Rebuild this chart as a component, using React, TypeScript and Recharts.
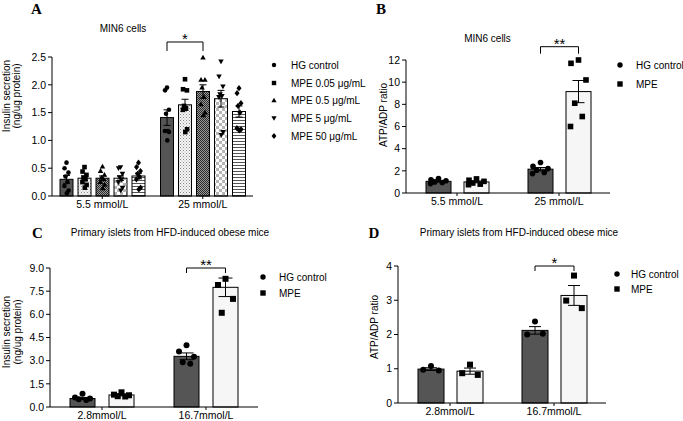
import React from 'react';
import { BarChart, Bar, XAxis, YAxis, ErrorBar } from 'recharts';

const FONT = '"Liberation Sans", Arial, sans-serif';
const SERIF = '"Liberation Serif", "Times New Roman", serif';

// ---------- Panel A: MIN6 cells, insulin secretion
const aGroups = ['5.5 mmol/L', '25 mmol/L'];
const aSeries = ['HG control', 'MPE 0.05 μg/mL', 'MPE 0.5 μg/mL', 'MPE 5 μg/mL', 'MPE 50 μg/mL'];
const aMeans = [[0.30, 1.41], [0.32, 1.64], [0.32, 1.88], [0.32, 1.75], [0.36, 1.52]];
const aSems = [[0.07, 0.14], [0.04, 0.1], [0.04, 0.12], [0.04, 0.15], [0.05, 0.1]];
const aPoints = [
  [[0.6, 0.5, 0.42, 0.35, 0.25, 0.18, 0.1, 0.05], [1.95, 1.9, 1.55, 1.48, 1.17, 1.17, 1.15, 1.0]],
  [[0.52, 0.44, 0.38, 0.33, 0.3, 0.25, 0.2, 0.15], [2.1, 1.92, 1.9, 1.62, 1.58, 1.55, 1.2, 1.15]],
  [[0.53, 0.45, 0.38, 0.33, 0.3, 0.25, 0.2, 0.14], [2.49, 2.09, 2.09, 1.95, 1.78, 1.65, 1.5, 1.45]],
  [[0.52, 0.5, 0.4, 0.34, 0.3, 0.25, 0.15, 0.1], [2.42, 2.15, 1.97, 1.83, 1.8, 1.78, 1.15, 1.1]],
  [[0.6, 0.52, 0.45, 0.4, 0.35, 0.3, 0.15, 0.12], [1.94, 1.85, 1.67, 1.62, 1.5, 1.22, 1.2, 1.18]],
];
const aTicks = [0, 0.5, 1, 1.5, 2, 2.5];

// ---------- Panel B: MIN6 cells, ATP/ADP
const bGroups = ['5.5 mmol/L', '25 mmol/L'];
const bSeries = ['HG control', 'MPE'];
const bMeans = [[1.05, 2.15], [1.0, 9.15]];
const bSems = [[0.06, 0.15], [0.08, 1.0]];
const bPoints = [
  [[1.3, 1.2, 1.1, 1.0, 0.95, 0.85], [2.75, 2.4, 2.2, 2.05, 1.85, 1.75]],
  [[1.27, 1.15, 1.05, 0.9, 0.8, 0.75], [12.0, 11.7, 10.2, 8.1, 6.9, 6.0]],
];
const bTicks = [0, 2, 4, 6, 8, 10, 12];

// ---------- Panel C: primary islets, insulin secretion
const cGroups = ['2.8mmol/L', '16.7mmol/L'];
const cSeries = ['HG control', 'MPE'];
const cMeans = [[0.55, 3.28], [0.78, 7.75]];
const cSems = [[0.07, 0.22], [0.06, 0.6]];
const cPoints = [
  [[0.86, 0.62, 0.55, 0.5, 0.45], [4.0, 3.6, 3.25, 2.9, 2.8]],
  [[0.95, 0.8, 0.76, 0.7, 0.68], [8.3, 7.9, 7.0, 6.1]],
];
const cTicks = [0, 1.5, 3, 4.5, 6, 7.5, 9];

// ---------- Panel D: primary islets, ATP/ADP
const dGroups = ['2.8mmol/L', '16.7mmol/L'];
const dSeries = ['HG control', 'MPE'];
const dMeans = [[0.99, 2.12], [0.93, 3.14]];
const dSems = [[0.04, 0.11], [0.09, 0.29]];
const dPoints = [
  [[1.08, 0.97, 0.95], [2.38, 2.0, 2.02]],
  [[1.12, 0.87, 0.82], [3.72, 2.99, 2.77]],
];
const dTicks = [0, 1, 2, 3, 4];

// significance brackets: group, first and last series, height in data units
const aBracket = { group: '25 mmol/L', from: 0, to: 2, level: 2.77, label: '*' };
const bBracket = { group: '25 mmol/L', from: 0, to: 1, level: 13.2, label: '**' };
const cBracket = { group: '16.7mmol/L', from: 0, to: 1, level: 9.0, label: '**' };
const dBracket = { group: '16.7mmol/L', from: 0, to: 1, level: 4.0, label: '*' };

const jitter = [0, -0.3, 0.3, -0.15, 0.15, -0.32, 0.32, 0.05];

function buildRows(groups: string[], means: number[][], sems: number[][], points: number[][][]) {
  return groups.map((name, g) => {
    const row: any = { name };
    means.forEach((m, s) => {
      row[`m${s}`] = m[g];
      row[`e${s}`] = sems[s][g];
      row[`p${s}`] = points[s][g];
    });
    return row;
  });
}

function Marker({ kind, cx, cy, r }: { kind: string; cx: number; cy: number; r: number }) {
  if (kind === 'circle') return <circle cx={cx} cy={cy} r={r} fill="#000" />;
  if (kind === 'square') return <rect x={cx - r} y={cy - r} width={2 * r} height={2 * r} fill="#000" />;
  if (kind === 'triangle')
    return <polygon points={`${cx},${cy - r * 1.25} ${cx - r * 1.2},${cy + r * 0.85} ${cx + r * 1.2},${cy + r * 0.85}`} fill="#000" />;
  if (kind === 'down')
    return <polygon points={`${cx},${cy + r * 1.25} ${cx - r * 1.2},${cy - r * 0.85} ${cx + r * 1.2},${cy - r * 0.85}`} fill="#000" />;
  return <polygon points={`${cx},${cy - r * 1.35} ${cx + r * 1.1},${cy} ${cx},${cy + r * 1.35} ${cx - r * 1.1},${cy}`} fill="#000" />;
}

const makeShape = (s: number, fill: string, marker: string, r: number, spread: number, bracket: any, barGap: number, drop: number) =>
  (props: any) => {
    const { x, y, width, height, payload } = props;
    const mean = payload[`m${s}`];
    const base = y + height;
    const k = mean ? height / mean : 0;
    const pts: number[] = payload[`p${s}`] || [];
    const cx = x + width / 2;
    let br = null;
    if (bracket && bracket.from === s && bracket.group === payload.name) {
      const x2 = cx + (bracket.to - bracket.from) * (width + barGap);
      const ly = base - bracket.level * k;
      br = (
        <g>
          <polyline points={`${cx},${ly + drop} ${cx},${ly} ${x2},${ly} ${x2},${ly + drop}`} fill="none" stroke="#000" strokeWidth={1} />
          <text x={(cx + x2) / 2} y={ly + 2} textAnchor="middle" fontSize={15} fontFamily={FONT} fill="#000">{bracket.label}</text>
        </g>
      );
    }
    return (
      <g>
        <rect x={x} y={y} width={width} height={height} fill={fill} stroke="#000" strokeWidth={1} />
        {pts.map((v, i) => (
          <Marker key={i} kind={marker} cx={cx + jitter[i % jitter.length] * width * spread} cy={base - v * k} r={r} />
        ))}
        {br}
      </g>
    );
  };

function Panel(p: any) {
  const rows = buildRows(p.groups, p.means, p.sems, p.points);
  const tickStyle = { fill: '#000', fontSize: 10.5, fontFamily: FONT };
  return (
    <div style={{ position: 'absolute', left: p.left, top: p.top }}>
      <BarChart width={p.width} height={p.height} data={rows} margin={p.margin} barSize={p.barSize} barGap={p.barGap}>
        <XAxis dataKey="name" interval={0} height={p.xHeight} tickSize={3} tickMargin={2}
          axisLine={{ stroke: '#000' }} tickLine={{ stroke: '#000' }} tick={tickStyle} />
        <YAxis width={p.yWidth} domain={[0, p.ticks[p.ticks.length - 1]]} ticks={p.ticks}
          tickFormatter={p.fmt} tickSize={4} tickMargin={2}
          axisLine={{ stroke: '#000' }} tickLine={{ stroke: '#000' }} tick={tickStyle} />
        {p.series.map((name: string, s: number) => (
          <Bar key={name} dataKey={`m${s}`} name={name} isAnimationActive={false}
            shape={makeShape(s, p.fills[s], p.markers[s], p.r, p.spread, p.bracket, p.barGap, p.drop)}>
            <ErrorBar dataKey={`e${s}`} width={p.cap} stroke="#000" strokeWidth={1} direction="y" />
          </Bar>
        ))}
      </BarChart>
    </div>
  );
}

const aFills = ['#555', 'url(#patDots)', 'url(#patFine)', 'url(#patCheck)', 'url(#patStripe)'];
const aMarkers = ['circle', 'square', 'triangle', 'down', 'diamond'];
const twoFills = ['#555', '#f6f6f6'];
const twoMarkers = ['circle', 'square'];

function Legend({ x, tx, ys, labels, markers, r }: any) {
  return (
    <g>
      {labels.map((l: string, i: number) => (
        <g key={l}>
          <Marker kind={markers[i]} cx={x} cy={ys[i]} r={r} />
          <text x={tx} y={ys[i] + 3.6} fontSize={10} fontFamily={FONT} fill="#000">{l}</text>
        </g>
      ))}
    </g>
  );
}

function RotLabel({ x, y, text }: any) {
  return (
    <text transform={`translate(${x},${y}) rotate(-90)`} textAnchor="middle" dominantBaseline="central"
      fontSize={10} fontFamily={FONT} fill="#000">{text}</text>
  );
}

export default function App() {
  const fmt1 = (v: number) => v.toFixed(1);
  const fmt0 = (v: number) => String(v);
  return (
    <div style={{ position: 'absolute', left: 0, top: 0, width: 683, height: 421, background: '#fff', overflow: 'hidden' }}>
      <svg width={0} height={0} style={{ position: 'absolute' }}>
        <defs>
          <pattern id="patDots" width={3} height={3} patternUnits="userSpaceOnUse">
            <rect width={3} height={3} fill="#f4f4f4" />
            <rect width={1} height={1} fill="#8a8a8a" />
            <rect x={1.5} y={1.5} width={1} height={1} fill="#b0b0b0" />
          </pattern>
          <pattern id="patFine" width={2} height={2} patternUnits="userSpaceOnUse">
            <rect width={2} height={2} fill="#999" />
            <rect width={1} height={1} fill="#2a2a2a" />
            <rect x={1} y={1} width={1} height={1} fill="#2a2a2a" />
          </pattern>
          <pattern id="patCheck" width={6} height={6} patternUnits="userSpaceOnUse">
            <rect width={6} height={6} fill="#fff" />
            <rect width={3} height={3} fill="#b5b5b5" />
            <rect x={3} y={3} width={3} height={3} fill="#b5b5b5" />
          </pattern>
          <pattern id="patStripe" width={3} height={3} patternUnits="userSpaceOnUse">
            <rect width={3} height={3} fill="#fff" />
            <rect width={3} height={1} fill="#555" />
          </pattern>
        </defs>
      </svg>

      <Panel left={0} top={0} width={255} height={216} margin={{ top: 57, right: 2, left: 0, bottom: 0 }}
        yWidth={52} xHeight={20} groups={aGroups} series={aSeries} means={aMeans} sems={aSems} points={aPoints}
        ticks={aTicks} fmt={fmt1} fills={aFills} markers={aMarkers} r={2.3} spread={0.5} barSize={13} barGap={5} cap={3.5}
        bracket={aBracket} drop={9} />
      <Panel left={350} top={0} width={262} height={213} margin={{ top: 60, right: 2, left: 0, bottom: 0 }}
        yWidth={56} xHeight={20} groups={bGroups} series={bSeries} means={bMeans} sems={bSems} points={bPoints}
        ticks={bTicks} fmt={fmt0} fills={twoFills} markers={twoMarkers} r={2.8} spread={1} barSize={25} barGap={13} cap={6}
        bracket={bBracket} drop={7} />
      <Panel left={0} top={210} width={260} height={211} margin={{ top: 58, right: 2, left: 0, bottom: 0 }}
        yWidth={50} xHeight={14} groups={cGroups} series={cSeries} means={cMeans} sems={cSems} points={cPoints}
        ticks={cTicks} fmt={fmt1} fills={twoFills} markers={twoMarkers} r={3} spread={1} barSize={25} barGap={14} cap={7}
        bracket={cBracket} drop={5} />
      <Panel left={350} top={210} width={258} height={211} margin={{ top: 56, right: 2, left: 0, bottom: 0 }}
        yWidth={48} xHeight={18} groups={dGroups} series={dSeries} means={dMeans} sems={dSems} points={dPoints}
        ticks={dTicks} fmt={fmt0} fills={twoFills} markers={twoMarkers} r={3} spread={1} barSize={26} barGap={13} cap={6}
        bracket={dBracket} drop={5} />

      <svg width={683} height={421} style={{ position: 'absolute', left: 0, top: 0, pointerEvents: 'none' }}>
        <text x={36.5} y={14} textAnchor="middle" fontSize={15} fontWeight="bold" fontFamily={SERIF}>A</text>
        <text x={381} y={14} textAnchor="middle" fontSize={15} fontWeight="bold" fontFamily={SERIF}>B</text>
        <text x={37.5} y={238} textAnchor="middle" fontSize={15} fontWeight="bold" fontFamily={SERIF}>C</text>
        <text x={374} y={238} textAnchor="middle" fontSize={15} fontWeight="bold" fontFamily={SERIF}>D</text>

        <text x={123} y={31.5} textAnchor="middle" fontSize={10} fontFamily={FONT}>MIN6 cells</text>
        <text x={487.5} y={42} textAnchor="middle" fontSize={10} fontFamily={FONT}>MIN6 cells</text>
        <text x={170} y={236} textAnchor="middle" fontSize={10} fontFamily={FONT}>Primary islets from HFD-induced obese mice</text>
        <text x={519} y={236} textAnchor="middle" fontSize={10} fontFamily={FONT}>Primary islets from HFD-induced obese mice</text>

        <RotLabel x={6.5} y={96} text="Insulin secretion" />
        <RotLabel x={16.5} y={96} text="(ng/ug protein)" />
        <RotLabel x={383} y={115} text="ATP/ADP ratio" />
        <RotLabel x={6.5} y={332} text="Insulin secretion" />
        <RotLabel x={17} y={332} text="(ng/ug protein)" />
        <RotLabel x={374} y={327} text="ATP/ADP ratio" />

        <Legend x={274} tx={291} ys={[65, 83, 100.5, 118, 136]} labels={aSeries} markers={aMarkers} r={2.2} />
        <Legend x={620} tx={636} ys={[65, 84]} labels={bSeries} markers={twoMarkers} r={2.7} />
        <Legend x={263} tx={279} ys={[277, 293]} labels={cSeries} markers={twoMarkers} r={2.7} />
        <Legend x={617} tx={631} ys={[274, 289]} labels={dSeries} markers={twoMarkers} r={2.7} />
      </svg>
    </div>
  );
}
